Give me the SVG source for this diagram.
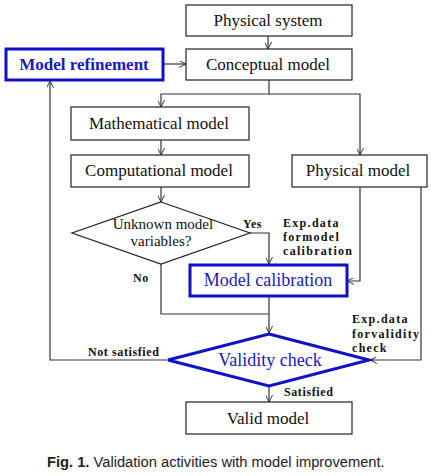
<svg xmlns="http://www.w3.org/2000/svg" width="431" height="476" viewBox="0 0 431 476">
<defs>
<style>
.box{fill:#fff;stroke:#222;stroke-width:1.2}
.bbox{fill:#fff;stroke:#1010c8;stroke-width:3}
.t{font-family:"Liberation Serif",serif;font-size:17px;fill:#111;text-anchor:middle}
.dt{font-family:"Liberation Serif",serif;font-size:15px;fill:#111;text-anchor:middle}
.bt{font-family:"Liberation Serif",serif;font-size:18px;fill:#1a1ac0;text-anchor:middle}
.bt2{font-family:"Liberation Serif",serif;font-size:17px;font-weight:bold;fill:#1a1ac0;text-anchor:middle}
.lb{font-family:"Liberation Serif",serif;font-size:12px;font-weight:bold;fill:#111;letter-spacing:0.6px}
.ex{letter-spacing:1.3px}
.ln{fill:none;stroke:#333;stroke-width:1.2}
.cap{font-family:"Liberation Sans",sans-serif;font-size:14.7px;fill:#222}
</style>
<marker id="ah" viewBox="0 0 10 10" refX="10" refY="5" markerWidth="7" markerHeight="7" orient="auto" markerUnits="userSpaceOnUse">
<path d="M0,0 L10,5 L0,10" fill="none" stroke="#333" stroke-width="1.4"/>
</marker>
</defs>
<rect width="431" height="476" fill="#fff"/>
<g id="connectors">
<line class="ln" x1="268" y1="36" x2="268" y2="49" marker-end="url(#ah)"/>
<line class="ln" x1="163" y1="64" x2="186" y2="64" marker-end="url(#ah)"/>
<polyline class="ln" points="269,80 269,94 161,94 161,107" marker-end="url(#ah)"/>
<polyline class="ln" points="269,94 360,94 360,155" marker-end="url(#ah)"/>
<line class="ln" x1="161" y1="140" x2="161" y2="155" marker-end="url(#ah)"/>
<line class="ln" x1="161" y1="187" x2="161" y2="202" marker-end="url(#ah)"/>
<polyline class="ln" points="250,233 269,233 269,264" marker-end="url(#ah)"/>
<polyline class="ln" points="360,187 360,281 347,281" marker-end="url(#ah)"/>
<polyline class="ln" points="161,264 161,314 269,314"/>
<line class="ln" x1="269" y1="297" x2="269" y2="333" marker-end="url(#ah)"/>
<polyline class="ln" points="421,187 421,360 370,360" marker-end="url(#ah)"/>
<polyline class="ln" points="167,360 50,360 50,81" marker-end="url(#ah)"/>
<line class="ln" x1="269" y1="386" x2="269" y2="402" marker-end="url(#ah)"/>
</g>
<g id="physical-system"><rect class="box" x="186" y="5" width="166" height="31"/><text class="t" x="268" y="26">Physical system</text></g>
<g id="conceptual-model"><rect class="box" x="186" y="49" width="166" height="31"/><text class="t" x="268" y="70">Conceptual model</text></g>
<g id="model-refinement"><rect class="bbox" x="6" y="49" width="157" height="31"/><text class="bt2" x="84" y="70">Model refinement</text></g>
<g id="mathematical-model"><rect class="box" x="71" y="107" width="178" height="33"/><text class="t" x="159" y="129">Mathematical model</text></g>
<g id="computational-model"><rect class="box" x="71" y="155" width="178" height="32"/><text class="t" x="159" y="176">Computational model</text></g>
<g id="physical-model"><rect class="box" x="292" y="155" width="135" height="32"/><text class="t" x="358" y="176">Physical model</text></g>
<g id="unknown-vars"><polygon class="box" points="161,202 250,233 161,264 72,233"/><text class="dt" x="163" y="229">Unknown model</text><text class="dt" x="161" y="246">variables?</text></g>
<g id="model-calibration"><rect class="bbox" x="190" y="265" width="157" height="31"/><text class="bt" x="268" y="286">Model calibration</text></g>
<g id="validity-check"><polygon class="bbox" points="269,334 369,360 269,386 168,360"/><text class="bt" x="270" y="366">Validity check</text></g>
<g id="valid-model"><rect class="box" x="186" y="402" width="166" height="32"/><text class="t" x="268" y="424">Valid model</text></g>
<g id="labels">
<text class="lb" x="243" y="228">Yes</text>
<text class="lb" x="133" y="282">No</text>
<text class="lb ex" x="283" y="227">Exp.data</text>
<text class="lb ex" x="283" y="241">formodel</text>
<text class="lb ex" x="283" y="255">calibration</text>
<text class="lb ex" x="352" y="323">Exp.data</text>
<text class="lb ex" x="352" y="338">forvalidity</text>
<text class="lb ex" x="352" y="352">check</text>
<text class="lb" x="88" y="356">Not satisfied</text>
<text class="lb" x="284" y="396">Satisfied</text>
</g>
<text class="cap" x="47" y="467"><tspan font-weight="bold">Fig. 1.</tspan> Validation activities with model improvement.</text>
</svg>
